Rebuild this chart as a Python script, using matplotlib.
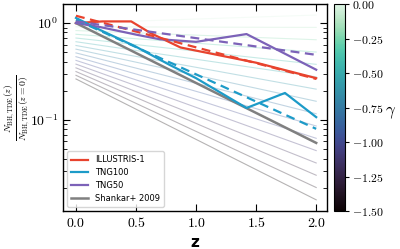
import numpy as np
import matplotlib
matplotlib.use("Agg")
import matplotlib.pyplot as plt
import seaborn as sns
from matplotlib.colors import Normalize
from matplotlib.cm import ScalarMappable

plt.rcParams['mathtext.fontset'] = 'cm'

# model family: gamma, value at z=0 and value at z=2
gammas = [0.0, -0.1, -0.2, -0.3, -0.4, -0.5, -0.6, -0.7, -0.8, -0.9, -1.0, -1.1, -1.2, -1.3, -1.4, -1.5]
model_z0 = [1.00, 0.915, 0.837, 0.766, 0.701, 0.642, 0.587, 0.538, 0.492, 0.450, 0.412, 0.377, 0.345, 0.316, 0.289, 0.265]
model_z2 = [1.21, 0.902, 0.673, 0.502, 0.375, 0.279, 0.208, 0.156, 0.116, 0.0867, 0.0647, 0.0483, 0.0360, 0.0269, 0.0201, 0.0150]

# simulations (solid)
ill_z = [0.0, 0.22, 0.46, 0.62, 0.75, 0.87, 1.5, 2.0]
ill_n = [1.00, 1.04, 1.04, 0.79, 0.66, 0.56, 0.39, 0.27]
tng100_z = [0.0, 0.2, 0.5, 0.78, 1.0, 1.42, 1.74, 2.0]
tng100_n = [1.13, 0.85, 0.57, 0.37, 0.27, 0.133, 0.19, 0.107]
tng50_z = [0.0, 0.2, 0.5, 0.7, 1.0, 1.42, 2.0]
tng50_n = [1.00, 0.91, 0.76, 0.68, 0.64, 0.77, 0.33]

# fits (dashed)
fit_z = [0.0, 2.0]
ill_fit = [1.19, 0.265]
tng100_fit = [1.08, 0.081]
tng50_fit = [1.04, 0.47]

# Shankar+ 2009
sh_z = [0.0, 2.0]
sh_n = [1.00, 0.058]

c_red = '#e8432e'
c_blue = '#1d9bc8'
c_purple = '#7c62b8'
c_gray = '#808080'

fig = plt.figure(figsize=(4.0, 2.49), dpi=100)
ax = fig.add_axes([0.1575, 0.1526, 0.66, 0.831])
cax = fig.add_axes([0.835, 0.1526, 0.0275, 0.831])

cmap = sns.color_palette("mako", as_cmap=True)
norm = Normalize(vmin=-1.5, vmax=0.0)

for g, a, b in zip(gammas, model_z0, model_z2):
    ax.plot(fit_z, [a, b], color=cmap(norm(g)), alpha=0.3, lw=0.8, zorder=1)

ax.plot(ill_z, ill_n, color=c_red, lw=1.6, label='ILLUSTRIS-1', zorder=3)
ax.plot(tng100_z, tng100_n, color=c_blue, lw=1.6, label='TNG100', zorder=3)
ax.plot(tng50_z, tng50_n, color=c_purple, lw=1.6, label='TNG50', zorder=3)
ax.plot(sh_z, sh_n, color=c_gray, lw=1.8, label='Shankar+ 2009', zorder=2)

ax.plot(fit_z, ill_fit, color=c_red, lw=1.6, ls=(0, (4, 2.5)), zorder=3)
ax.plot(fit_z, tng100_fit, color=c_blue, lw=1.6, ls=(0, (4, 2.5)), zorder=3)
ax.plot(fit_z, tng50_fit, color=c_purple, lw=1.6, ls=(0, (4, 2.5)), zorder=3)

ax.set_yscale('log')
ax.set_xlim(-0.108, 2.09)
ax.set_ylim(0.0115, 1.57)
ax.set_xticks([0.0, 0.5, 1.0, 1.5, 2.0])
ax.set_xticklabels([r'$0.0$', r'$0.5$', r'$1.0$', r'$1.5$', r'$2.0$'])
ax.set_yticks([0.1, 1.0])
ax.set_yticklabels([r'$10^{-1}$', r'$10^{0}$'])
ax.tick_params(axis='both', which='both', direction='in', top=True, right=True, labelsize=10)
ax.tick_params(axis='both', which='major', length=5, width=0.8)
ax.tick_params(axis='y', which='minor', length=3, width=0.6)
ax.tick_params(axis='x', which='minor', bottom=False, top=False)
for s in ax.spines.values():
    s.set_linewidth(1.0)

ax.set_xlabel('z', fontsize=11, fontweight='bold', family='DejaVu Sans', labelpad=4)
ax.set_ylabel(r'$\frac{N_{\rm BH,TDE}(z)}{N_{\rm BH,TDE}(z=0)}$', fontsize=10)
ax.yaxis.set_label_coords(-0.118, 0.5)

leg = ax.legend(loc='lower left', fontsize=6, frameon=True, handlelength=2.0,
                borderpad=0.5, labelspacing=0.45, framealpha=0.8, edgecolor='#cccccc')

sm = ScalarMappable(norm=norm, cmap=cmap)
cb = fig.colorbar(sm, cax=cax)
cb.set_ticks([0.0, -0.25, -0.5, -0.75, -1.0, -1.25, -1.5])
cb.set_ticklabels([r'$0.00$', r'$-0.25$', r'$-0.50$', r'$-0.75$', r'$-1.00$', r'$-1.25$', r'$-1.50$'])
cb.ax.tick_params(labelsize=8.5, length=3, pad=2)
cb.outline.set_linewidth(0.8)
fig.text(0.976, 0.55, r'$\gamma$', ha='center', va='center', fontsize=12)

fig.savefig('out.png', dpi=100)
